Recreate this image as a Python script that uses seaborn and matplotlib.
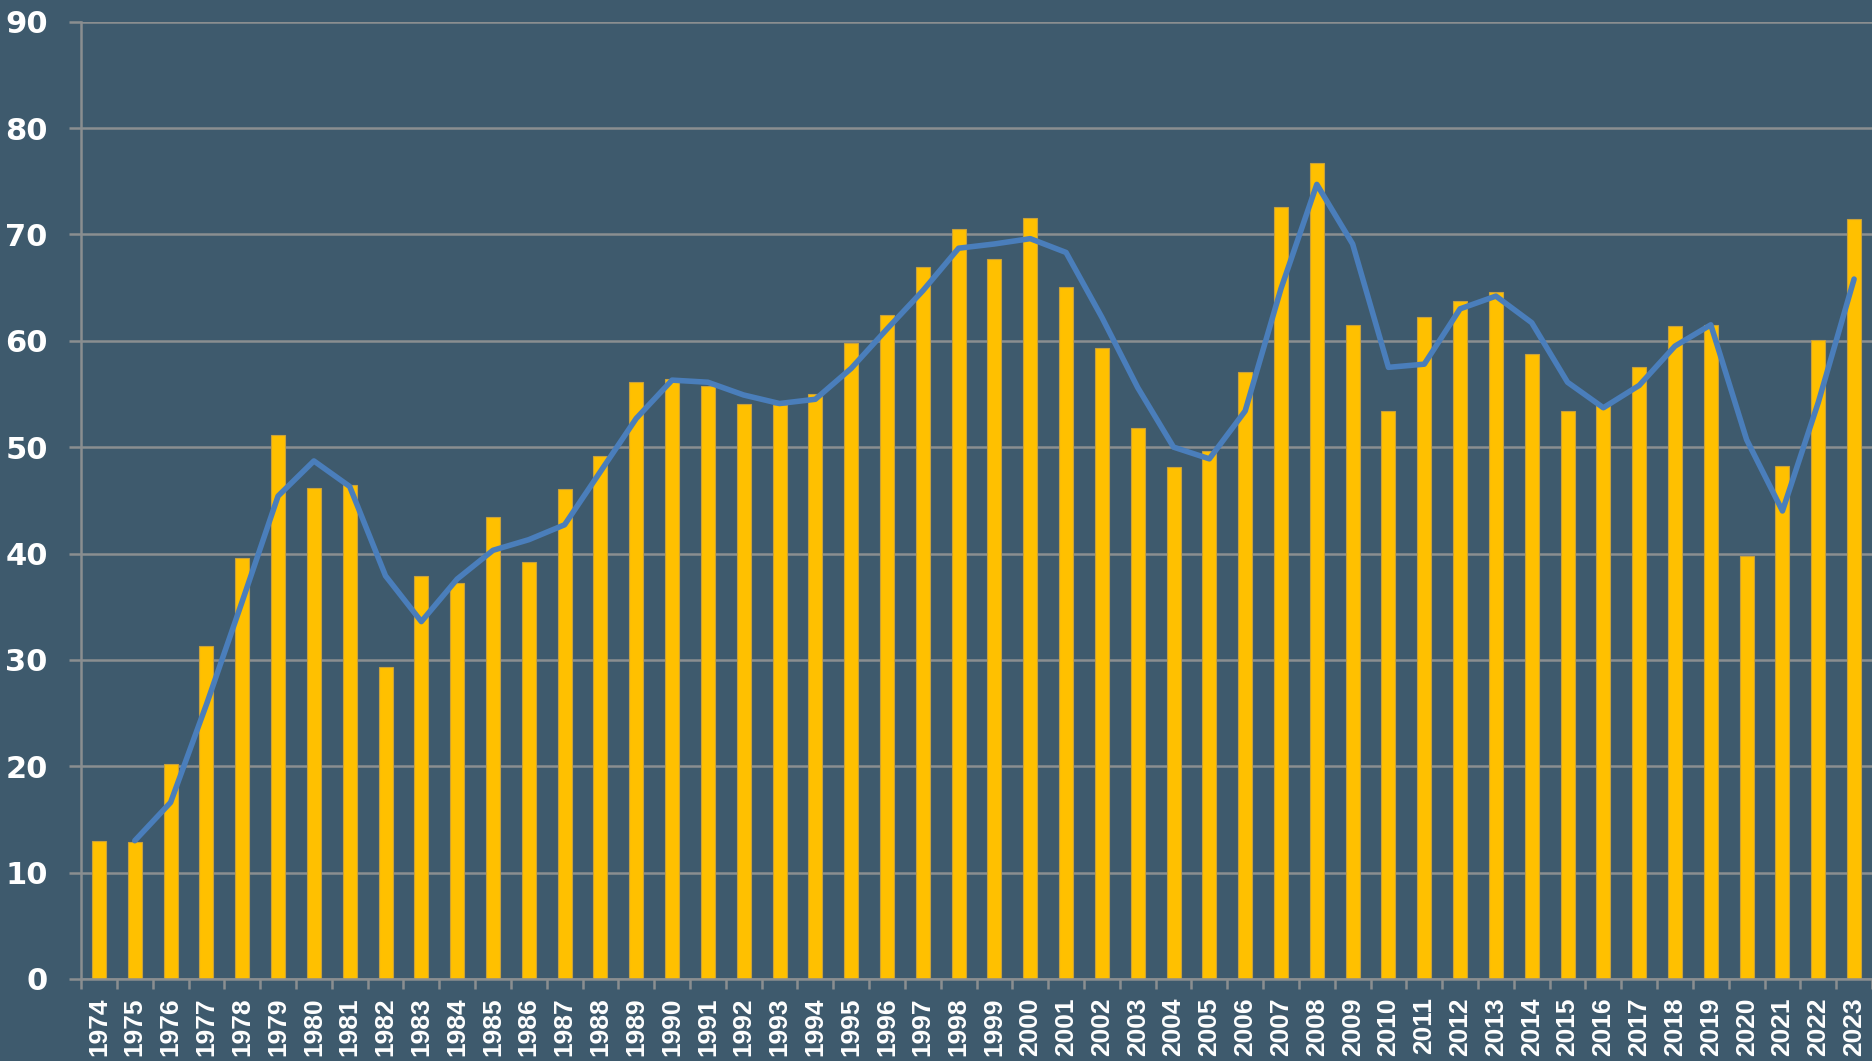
import numpy as np
import pandas as pd
import matplotlib
matplotlib.use("Agg")
import matplotlib.pyplot as plt
import seaborn as sns

BG = "#3E5A6D"
BAR_COLOR = "#FFC000"
LINE_COLOR = "#4A7EBB"
GRID_COLOR = "#8A8E90"

years = list(range(1974, 2024))
values = [
    13.0, 12.9, 20.2, 31.3, 39.6, 51.1, 46.2, 46.4, 29.3, 37.9,
    37.2, 43.4, 39.2, 46.1, 49.2, 56.1, 56.4, 55.7, 54.1, 54.0,
    55.0, 59.8, 62.4, 66.9, 70.5, 67.7, 71.5, 65.1, 59.3, 51.8,
    48.1, 49.6, 57.1, 72.6, 76.7, 61.5, 53.4, 62.2, 63.7, 64.6,
    58.8, 53.4, 54.0, 57.5, 61.4, 61.5, 39.8, 48.2, 60.1, 71.4,
]
# 2-year moving average line (starts at 1975)
trend_years = list(range(1975, 2024))
trend = [
    13.0, 16.6, 25.8, 35.5, 45.4, 48.7, 46.3, 37.9, 33.6, 37.6,
    40.3, 41.3, 42.7, 47.7, 52.7, 56.3, 56.1, 54.9, 54.1, 54.5,
    57.4, 61.1, 64.7, 68.7, 69.1, 69.6, 68.3, 62.2, 55.6, 50.0,
    48.9, 53.4, 64.9, 74.7, 69.1, 57.5, 57.8, 63.0, 64.2, 61.7,
    56.1, 53.7, 55.8, 59.5, 61.5, 50.7, 44.0, 54.2, 65.8,
]

df = pd.DataFrame({"year": [str(y) for y in years], "value": values})
df_line = pd.DataFrame({
    "pos": [years.index(y) for y in trend_years],
    "value": trend,
})

sns.set_style("dark")
plt.rcParams["font.family"] = ["DejaVu Sans"]

fig = plt.figure(figsize=(18.72, 10.61), dpi=100, facecolor=BG)
ax = fig.add_axes([0.0433, 0.0773, 0.9567, 0.9023])
ax.set_facecolor(BG)

sns.barplot(data=df, x="year", y="value", color=BAR_COLOR, width=0.39,
            edgecolor="#C9A13A", linewidth=0.8, saturation=1, ax=ax, zorder=2)
sns.lineplot(data=df_line, x="pos", y="value", color=LINE_COLOR, linewidth=4.0,
             ax=ax, zorder=3, solid_joinstyle="round", solid_capstyle="round")

ax.set_xlim(-0.5, len(years) - 0.5)
ax.set_ylim(0, 90)
ax.set_yticks(np.arange(0, 91, 10))
ax.yaxis.grid(True, color=GRID_COLOR, linewidth=1.8, zorder=0)
ax.xaxis.grid(False)
ax.set_axisbelow(True)

ax.set_xlabel("")
ax.set_ylabel("")

for side in ["top", "right"]:
    ax.spines[side].set_visible(False)
for side in ["left", "bottom"]:
    ax.spines[side].set_visible(True)
    ax.spines[side].set_color(GRID_COLOR)
    ax.spines[side].set_linewidth(1.8)

ax.tick_params(axis="y", length=9, width=1.8, color=GRID_COLOR, pad=15,
               labelcolor="white", labelsize=22, left=True)
for lab in ax.get_yticklabels():
    lab.set_fontweight("bold")

ax.set_xticks(np.arange(-0.5, len(years), 1.0), minor=True)
ax.tick_params(axis="x", which="minor", length=7, width=1.8, color=GRID_COLOR, bottom=True)
ax.tick_params(axis="x", which="major", length=0, pad=13, labelcolor="white")
ax.set_xticks(range(len(years)))
ax.set_xticklabels([str(y) for y in years], rotation=90, fontsize=19,
                   fontweight="bold", family="Liberation Sans", va="top")

if ax.get_legend() is not None:
    ax.get_legend().remove()

fig.savefig("out.png", dpi=100, facecolor=BG)
